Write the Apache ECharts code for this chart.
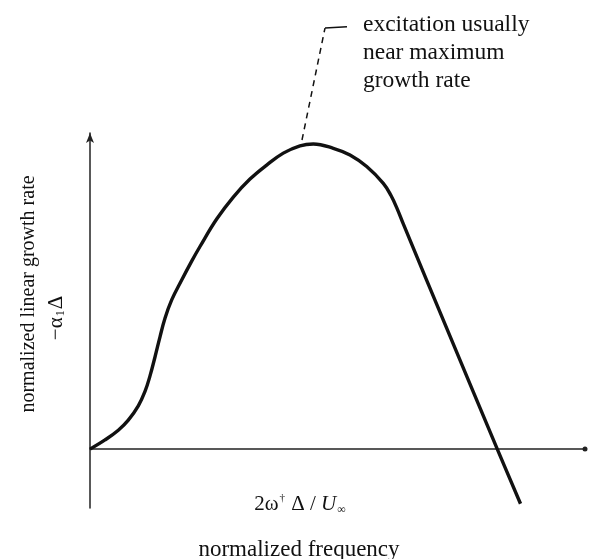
<!DOCTYPE html>
<html>
<head>
<meta charset="utf-8">
<script src="https://cdn.jsdelivr.net/npm/echarts@6/dist/echarts.min.js"></script>
<style>
  html, body { margin: 0; padding: 0; background: #fff; }
  #main { width: 591px; height: 559px; }
</style>
</head>
<body>
<div id="main"></div>
<script>
// curve: normalized frequency vs normalized growth rate
var freq = [0, 0.15, 0.283, 0.383, 0.483, 0.55, 0.60, 0.65, 0.70, 0.75, 0.817, 0.917, 1.017, 1.10,
            1.267, 1.433, 1.60, 1.767, 1.933, 2.10, 2.233, 2.433, 2.60, 2.767, 2.933, 3.01, 3.07,
            3.133, 3.60, 4.073, 4.305];
var growth = [0, 0.030, 0.062, 0.095, 0.142, 0.189, 0.240, 0.302, 0.368, 0.429, 0.489, 0.554, 0.616, 0.664,
              0.754, 0.826, 0.885, 0.931, 0.970, 0.994, 1.000, 0.986, 0.964, 0.926, 0.871, 0.831, 0.789,
              0.738, 0.370, 0, -0.179];

// leader line from the peak to the note
var leaderX = [2.12, 2.35];
var leaderY = [1.013, 1.380];
var tickX = [2.35, 2.57];
var tickY = [1.380, 1.384];

var noteLines = ['excitation usually', 'near maximum', 'growth rate'];

var serif = '"Liberation Serif", "DejaVu Serif", serif';

function pairs(xs, ys) {
    var out = [];
    for (var i = 0; i < xs.length; i++) {
        out.push([xs[i], ys[i]]);
    }
    return out;
}

var myChart = echarts.init(document.getElementById('main'));

var option = {
    animation: false,
    backgroundColor: '#fff',
    grid: {
        left: 90,
        right: 6,
        top: 133,
        bottom: 51
    },
    xAxis: {
        type: 'value',
        min: 0,
        max: 4.95,
        axisLine: {
            onZero: true,
            lineStyle: { color: '#222', width: 1.5 },
            symbol: ['none', 'circle'],
            symbolSize: [5, 5]
        },
        axisTick: { show: false },
        axisLabel: { show: false },
        splitLine: { show: false }
    },
    yAxis: {
        type: 'value',
        min: -0.193,
        max: 1.036,
        axisLine: {
            show: true,
            onZero: false,
            lineStyle: { color: '#222', width: 1.5 },
            symbol: ['none', 'arrow'],
            symbolSize: [6, 10]
        },
        axisTick: { show: false },
        axisLabel: { show: false },
        splitLine: { show: false }
    },
    series: [
        {
            type: 'line',
            data: pairs(freq, growth),
            smooth: 0.4,
            showSymbol: false,
            clip: false,
            lineStyle: { color: '#111', width: 3.4 }
        },
        {
            type: 'line',
            data: pairs(leaderX, leaderY),
            showSymbol: false,
            clip: false,
            lineStyle: { color: '#111', width: 1.5, type: [6, 5] }
        },
        {
            type: 'line',
            data: pairs(tickX, tickY),
            showSymbol: false,
            clip: false,
            lineStyle: { color: '#111', width: 1.5 }
        }
    ],
    graphic: [
        {
            type: 'text',
            left: 363,
            top: 11,
            style: {
                text: noteLines.join('\n'),
                font: '23.5px ' + serif,
                lineHeight: 28,
                fill: '#111'
            }
        },
        {
            type: 'text',
            x: 29,
            y: 294,
            rotation: Math.PI / 2,
            style: {
                text: 'normalized linear growth rate',
                font: '20px ' + serif,
                fill: '#111',
                align: 'center',
                verticalAlign: 'middle'
            }
        },
        {
            type: 'text',
            x: 56,
            y: 318,
            rotation: Math.PI / 2,
            style: {
                text: '{a|−α}{s|1}{a|Δ}',
                align: 'center',
                verticalAlign: 'middle',
                rich: {
                    a: { font: '21px ' + serif, fill: '#111', verticalAlign: 'middle' },
                    s: { font: '12px ' + serif, fill: '#111', padding: [10, 1, 0, 1] }
                }
            }
        },
        {
            type: 'text',
            x: 300,
            y: 504,
            style: {
                text: '{a|2ω}{sup|†}{a| Δ / }{i|U}{sub|∞}',
                align: 'center',
                verticalAlign: 'middle',
                rich: {
                    a: { font: '21px ' + serif, fill: '#111' },
                    i: { font: 'italic 21px ' + serif, fill: '#111' },
                    sup: { font: '11px ' + serif, fill: '#111', padding: [0, 1, 12, 1] },
                    sub: { font: '12px ' + serif, fill: '#111', padding: [12, 0, 0, 1] }
                }
            }
        },
        {
            type: 'text',
            x: 299,
            y: 550,
            style: {
                text: 'normalized frequency',
                font: '23px ' + serif,
                fill: '#111',
                align: 'center',
                verticalAlign: 'middle'
            }
        }
    ]
};

myChart.setOption(option);
</script>
</body>
</html>
